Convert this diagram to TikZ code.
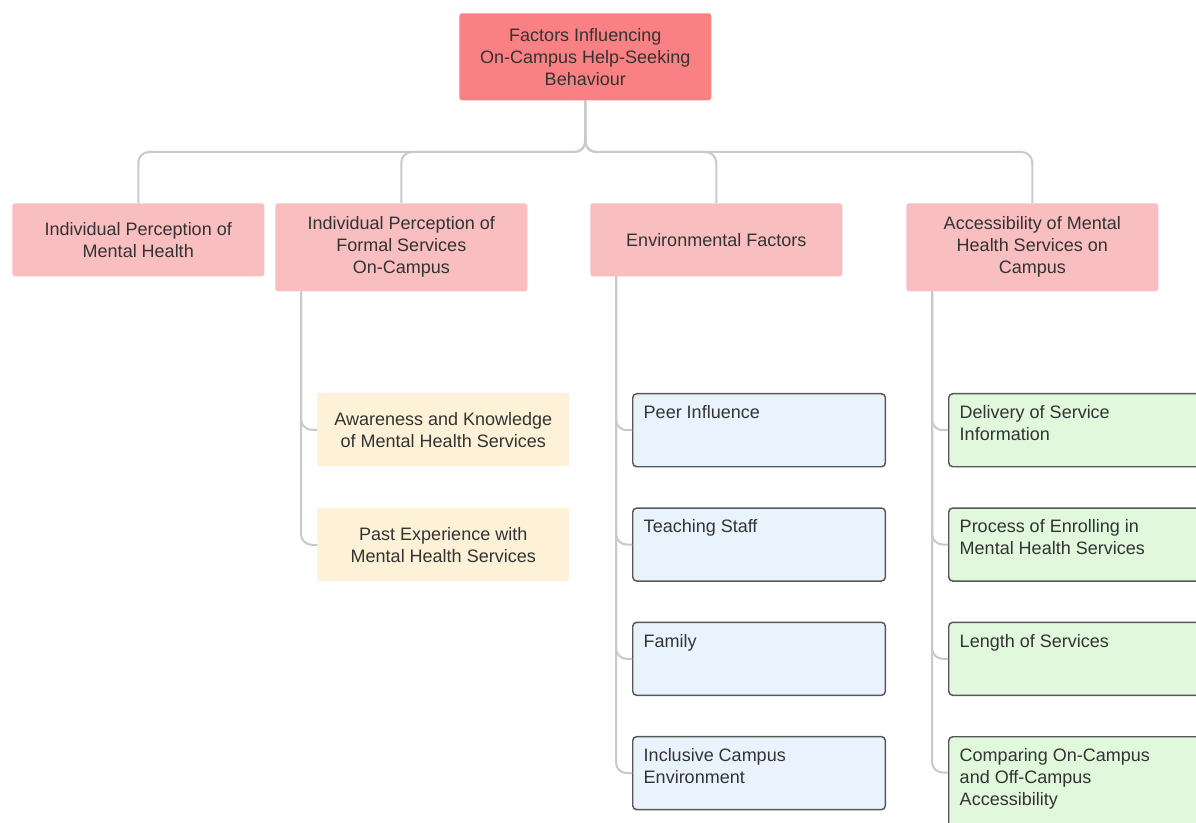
\documentclass[tikz,border=0pt]{standalone}
\usepackage{fontspec}
\setmainfont{Liberation Sans}
\definecolor{rootred}{HTML}{F98183}
\definecolor{headpink}{HTML}{F9BEBF}
\definecolor{awareyellow}{HTML}{FDF1D7}
\definecolor{envblue}{HTML}{E9F3FE}
\definecolor{accgreen}{HTML}{E1F8DD}
\definecolor{linkgrey}{HTML}{C9C9C9}
\definecolor{edgegrey}{HTML}{575757}
\definecolor{inkgrey}{HTML}{333333}
% text block pinned to the top left corner of a box
\newcommand{\topleft}[2][40.75pt]{\parbox[t][#1][t]{173pt}{\raggedright\strut #2}}

\begin{document}
\begin{tikzpicture}[x=0.75pt,y=-0.75pt,
	font=\fontsize{13.5}{16.5}\selectfont, text=inkgrey,
	rootbox/.style={fill=rootred, rounded corners=2pt, minimum width=189pt, minimum height=65.25pt, align=center, anchor=north west},
	headbox/.style={fill=headpink, rounded corners=2pt, minimum width=189pt, align=center, anchor=north west},
	yellowbox/.style={fill=awareyellow, minimum width=189pt, minimum height=54.75pt, align=center, anchor=north west},
	blockbox/.style={draw=edgegrey, line width=1.1pt, rounded corners=3pt, inner xsep=8.25pt, inner ysep=7pt, anchor=north west},
	link/.style={draw=linkgrey, line width=1.5pt, rounded corners=8pt}]
		\useasboundingbox (0,0) rectangle (1196,823);
		\clip (0,0) rectangle (1196,823);
		% top of the tree
		\node[rootbox] (root) at (459,13) {Factors Influencing\\On-Campus Help-Seeking\\Behaviour};
		\node[headbox, minimum height=54.75pt] (indiv) at (12,203) {Individual Perception of\\Mental Health};
		\node[headbox, minimum height=66pt] (formal) at (275,203) {Individual Perception of\\Formal Services\\On-Campus};
		\node[headbox, minimum height=54.75pt] (env) at (590,203) {Environmental Factors};
		\node[headbox, minimum height=66pt] (access) at (906,203) {Accessibility of Mental\\Health Services on\\Campus};
		\coordinate (hub) at (585,152);
		\foreach \c in {indiv,formal,env,access}
		{
			\draw[link] (root.south) -- (root.south |- hub) -| (\c.north);
		}
		% formal services
		\coordinate (fspine) at ([xshift=19.5pt]formal.south west);
		\node[yellowbox] (aware) at (317,393) {Awareness and Knowledge\\of Mental Health Services};
		\node[yellowbox] (past) at (317,508) {Past Experience with\\Mental Health Services};
		\foreach \s in {aware,past}
		{
			\draw[link] (fspine) |- (\s.west);
		}
		% environmental factors
		\coordinate (espine) at ([xshift=19.5pt]env.south west);
		\foreach \name/\txt [count=\k from 0] in {peer/Peer Influence, staff/Teaching Staff, family/Family, inclusive/{Inclusive Campus\\Environment}}
		{
			\node[blockbox, fill=envblue] (\name) at (632,393+114.3*\k) {\topleft{\txt}};
			\draw[link] (espine) |- (\name.west);
		}
		% accessibility
		\coordinate (aspine) at ([xshift=19.5pt]access.south west);
		\foreach \name/\txt [count=\k from 0] in {delivery/{Delivery of Service\\Information}, enrol/{Process of Enrolling in\\Mental Health Services}, length/Length of Services}
		{
			\node[blockbox, fill=accgreen] (\name) at (948,393+114.3*\k) {\topleft{\txt}};
			\draw[link] (aspine) |- (\name.west);
		}
		\node[blockbox, fill=accgreen] (compare) at (948,736) {\topleft[57.25pt]{Comparing On-Campus\\and Off-Campus\\Accessibility}};
		\draw[link] (aspine) |- ([yshift=-27.4pt]compare.north west);
\end{tikzpicture}
\end{document}
